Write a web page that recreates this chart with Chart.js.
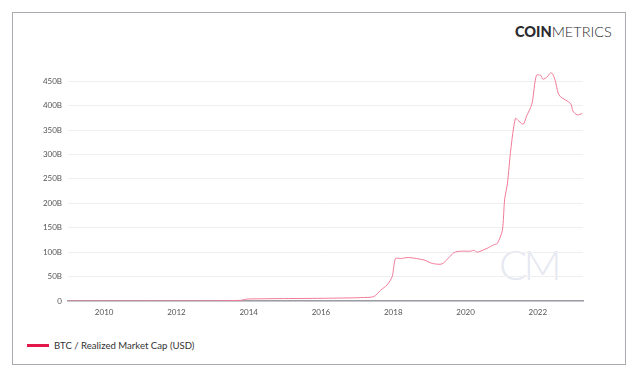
<!DOCTYPE html>
<html lang="en">
<head>
    <meta charset="UTF-8">
    <title>BTC Realized Market Cap</title>
    <script src="https://cdn.jsdelivr.net/npm/chart.js"></script>
    <style>
        body, html {
            margin: 0;
            padding: 0;
            width: 640px;
            height: 379px;
            background: #fff;
            font-family: Lato, 'Open Sans', sans-serif;
            overflow: hidden;
        }
        .frame {
            position: absolute;
            left: 12px;
            top: 12px;
            width: 612px;
            height: 351px;
            border: 1.5px solid #a9a9b0;
        }
        .logo {
            position: absolute;
            left: 515px;
            top: 23px;
            font-size: 14.5px;
            color: #2a2a2e;
        }
        .logo b { font-weight: 900; }
        .logo span { font-weight: 300; }
        .watermark {
            position: absolute;
            left: 499px;
            top: 239px;
            font-size: 42px;
            font-weight: 300;
            color: #e6e8f1;
            letter-spacing: -4px;
        }
        .chart-box {
            position: absolute;
            left: 13px;
            top: 13px;
            width: 613px;
            height: 310px;
        }
        .legend {
            position: absolute;
            left: 27px;
            top: 340px;
            font-size: 9.6px;
            color: #333;
            display: flex;
            align-items: center;
            gap: 5px;
        }
        .legend i {
            display: inline-block;
            width: 22px;
            height: 2.5px;
            background: #e3184a;
        }
    </style>
</head>
<body>
    <div class="frame"></div>
    <div class="logo"><b>COIN</b><span>METRICS</span></div>
    <div class="watermark">CM</div>
    <div class="chart-box"><canvas id="capChart"></canvas></div>
    <div class="legend"><i></i>BTC / Realized Market Cap (USD)</div>
    <script>
        // decimal years and realized cap in billions USD
        const years = [2009.0, 2010.0, 2011.0, 2012.0, 2013.0, 2013.8, 2013.95, 2014.3, 2015.0, 2016.0, 2016.9,
            2017.09, 2017.46, 2017.65, 2017.83, 2017.97, 2018.06, 2018.2, 2018.43, 2018.85, 2019.08, 2019.35,
            2019.68, 2019.86, 2020.14, 2020.23, 2020.32, 2020.6, 2020.78, 2020.88, 2021.02, 2021.08, 2021.16,
            2021.25, 2021.38, 2021.48, 2021.6, 2021.68, 2021.8, 2021.85, 2021.96, 2022.08, 2022.14, 2022.26,
            2022.35, 2022.41, 2022.49, 2022.56, 2022.63, 2022.91, 2022.97, 2023.09, 2023.23];
        const realizedCap = [0, 0, 0.1, 0.1, 0.3, 1.5, 4, 4.5, 5, 5.5, 6.5,
            7, 9, 22, 33, 50, 87, 87, 89, 84, 77, 76,
            99, 102, 102, 104, 100, 108, 115, 118, 145, 207, 241,
            309, 374, 368, 362, 377, 396, 408, 462, 462, 454, 459,
            467, 465, 449, 426, 418, 404, 389, 381, 384];
        const yearTicks = [2010, 2012, 2014, 2016, 2018, 2020, 2022];
        const capTicks = [0, 50, 100, 150, 200, 250, 300, 350, 400, 450];

        const points = years.map((x, i) => ({ x: x, y: realizedCap[i] }));

        new Chart(document.getElementById('capChart'), {
            type: 'line',
            data: {
                datasets: [{
                    label: 'BTC / Realized Market Cap (USD)',
                    data: points,
                    borderColor: '#f27a98',
                    borderWidth: 1,
                    pointRadius: 0,
                    tension: 0.25,
                    fill: false
                }]
            },
            options: {
                responsive: true,
                maintainAspectRatio: false,
                animation: false,
                layout: { padding: { left: 0, right: 43, top: 56, bottom: 0 } },
                plugins: { legend: { display: false }, tooltip: { enabled: false } },
                scales: {
                    x: {
                        type: 'linear',
                        min: 2009.0,
                        max: 2023.25,
                        afterBuildTicks: axis => { axis.ticks = yearTicks.map(v => ({ value: v })); },
                        afterFit: axis => { axis.height = 22; },
                        grid: { display: false, drawTicks: false },
                        border: { display: true, color: '#9d9da5', width: 1.5 },
                        ticks: {
                            padding: 7,
                            color: '#555',
                            font: { family: 'Lato', size: 8 },
                            maxRotation: 0,
                            callback: v => String(v)
                        }
                    },
                    y: {
                        min: 0,
                        max: 475,
                        afterBuildTicks: axis => { axis.ticks = capTicks.map(v => ({ value: v })); },
                        afterFit: axis => { axis.width = 55; },
                        grid: { color: '#efeff2', drawTicks: false },
                        border: { display: false },
                        ticks: {
                            padding: 6,
                            color: '#555',
                            font: { family: 'Lato', size: 8 },
                            callback: v => v === 0 ? '0' : v + 'B'
                        }
                    }
                }
            }
        });
    </script>
</body>
</html>
